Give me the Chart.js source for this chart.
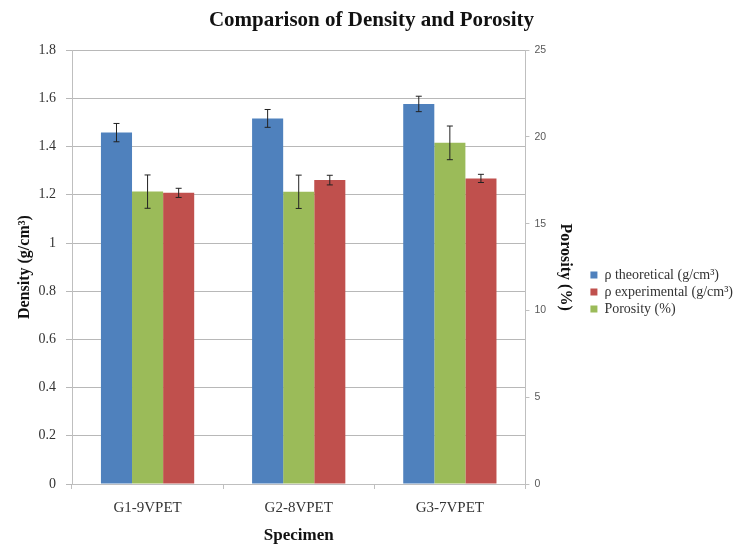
<!DOCTYPE html>
<html>
<head>
<meta charset="utf-8">
<script src="https://cdn.jsdelivr.net/npm/chart.js@4.4.0/dist/chart.umd.min.js"></script>
<style>
  html, body { margin: 0; padding: 0; background: #fff; }
  #wrap { width: 743px; height: 550px; }
</style>
</head>
<body>
<div id="wrap"><canvas id="bar-chart"></canvas></div>
<script>
const specimens = ['G1-9VPET', 'G2-8VPET', 'G3-7VPET'];
const rhoTheoretical = [1.458, 1.517, 1.577];
const rhoTheoreticalErr = [0.038, 0.037, 0.032];
const porosity = [16.85, 16.84, 19.66];
const porosityErr = [0.96, 0.96, 0.97];
const rhoExperimental = [1.208, 1.261, 1.268];
const rhoExperimentalErr = [0.019, 0.02, 0.017];
// legend shows blue, red, green while bars go blue, green, red
const legendOrder = [0, 2, 1];

const serif = "'Liberation Serif', 'Times New Roman', serif";

// simple error bars, drawn through the dataset's own y scale
const errorBars = {
  id: 'errorBars',
  afterDatasetsDraw(chart) {
    const ctx = chart.ctx;
    chart.data.datasets.forEach((ds, i) => {
      const meta = chart.getDatasetMeta(i);
      const scale = chart.scales[ds.yAxisID];
      meta.data.forEach((bar, j) => {
        const v = ds.data[j], e = ds.errors[j];
        const yTop = scale.getPixelForValue(v + e);
        const yBot = scale.getPixelForValue(v - e);
        ctx.save();
        ctx.strokeStyle = '#222';
        ctx.lineWidth = 1;
        ctx.beginPath();
        ctx.moveTo(bar.x, yTop); ctx.lineTo(bar.x, yBot);
        ctx.moveTo(bar.x - 3, yTop); ctx.lineTo(bar.x + 3, yTop);
        ctx.moveTo(bar.x - 3, yBot); ctx.lineTo(bar.x + 3, yBot);
        ctx.stroke();
        ctx.restore();
      });
    });
  }
};

// the layout caps side boxes at a third of half the width, the legend needs more room
const wideLegend = {
  id: 'wideLegend',
  afterInit(chart) {
    const lg = chart.legend;
    const upd = lg.update.bind(lg);
    lg.update = (maxW, maxH, margins) => upd(Math.max(maxW, 190), maxH, margins);
  }
};

new Chart(document.getElementById('bar-chart'), {
  type: 'bar',
  data: {
    labels: specimens,
    datasets: [
      { label: 'ρ theoretical (g/cm³)', data: rhoTheoretical, errors: rhoTheoreticalErr,
        backgroundColor: '#4F81BD', yAxisID: 'y' },
      { label: 'Porosity (%)', data: porosity, errors: porosityErr,
        backgroundColor: '#9BBB59', yAxisID: 'y1' },
      { label: 'ρ experimental (g/cm³)', data: rhoExperimental, errors: rhoExperimentalErr,
        backgroundColor: '#C0504D', yAxisID: 'y' }
    ]
  },
  options: {
    responsive: true,
    maintainAspectRatio: false,
    animation: false,
    layout: { padding: 0 },
    datasets: { bar: { categoryPercentage: 0.617, barPercentage: 1.0 } },
    scales: {
      x: {
        grid: { offset: true, drawOnChartArea: false, tickLength: 5, color: '#bfbfbf' },
        border: { color: '#bfbfbf' },
        ticks: { color: '#333', font: { family: serif, size: 15 }, padding: 10 },
        title: { display: true, text: 'Specimen', color: '#111',
                 font: { family: serif, size: 17, weight: 'bold' }, padding: { top: 4, bottom: 4 } },
        afterFit: s => { s.height = 66; }
      },
      y: {
        position: 'left',
        min: 0,
        max: 1.8,
        ticks: {
          stepSize: 0.2,
          color: '#333',
          font: { family: serif, size: 14 },
          padding: 10,
          callback: v => String(Number(v.toFixed(1)))
        },
        grid: { color: '#b8b8b8', tickLength: 6 },
        border: { color: '#bfbfbf' },
        title: { display: true, text: 'Density (g/cm³)', color: '#111',
                 font: { family: serif, size: 16, weight: 'bold' }, padding: { top: 15, bottom: 0 } },
        afterFit: s => { s.width = 72; }
      },
      y1: {
        position: 'right',
        min: 0,
        max: 25,
        ticks: { stepSize: 5, color: '#595959', font: { family: "'Liberation Sans', sans-serif", size: 10.5 }, padding: 5 },
        grid: { drawOnChartArea: false, tickLength: 4, color: '#bfbfbf' },
        border: { color: '#bfbfbf' },
        title: { display: true, text: 'Porosity (%)', color: '#111',
                 font: { family: serif, size: 16, weight: 'bold' }, padding: { top: 13, bottom: 0 } },
        afterFit: s => { s.width = 62; }
      }
    },
    plugins: {
      title: {
        display: true,
        text: 'Comparison of Density and Porosity',
        color: '#111',
        font: { family: serif, size: 21, weight: 'bold' },
        padding: { top: 8, bottom: 17 }
      },
      legend: {
        position: 'right',
        align: 'center',
        title: { display: true, text: ' ', font: { size: 10 }, padding: { top: 22, bottom: 0 } },
        labels: {
          boxWidth: 7,
          boxHeight: 7,
          padding: 3,
          color: '#333',
          font: { family: serif, size: 14 },
          sort: (a, b) => legendOrder[a.datasetIndex] - legendOrder[b.datasetIndex]
        }
      },
      tooltip: { enabled: false }
    }
  },
  plugins: [errorBars, wideLegend]
});
</script>
</body>
</html>
